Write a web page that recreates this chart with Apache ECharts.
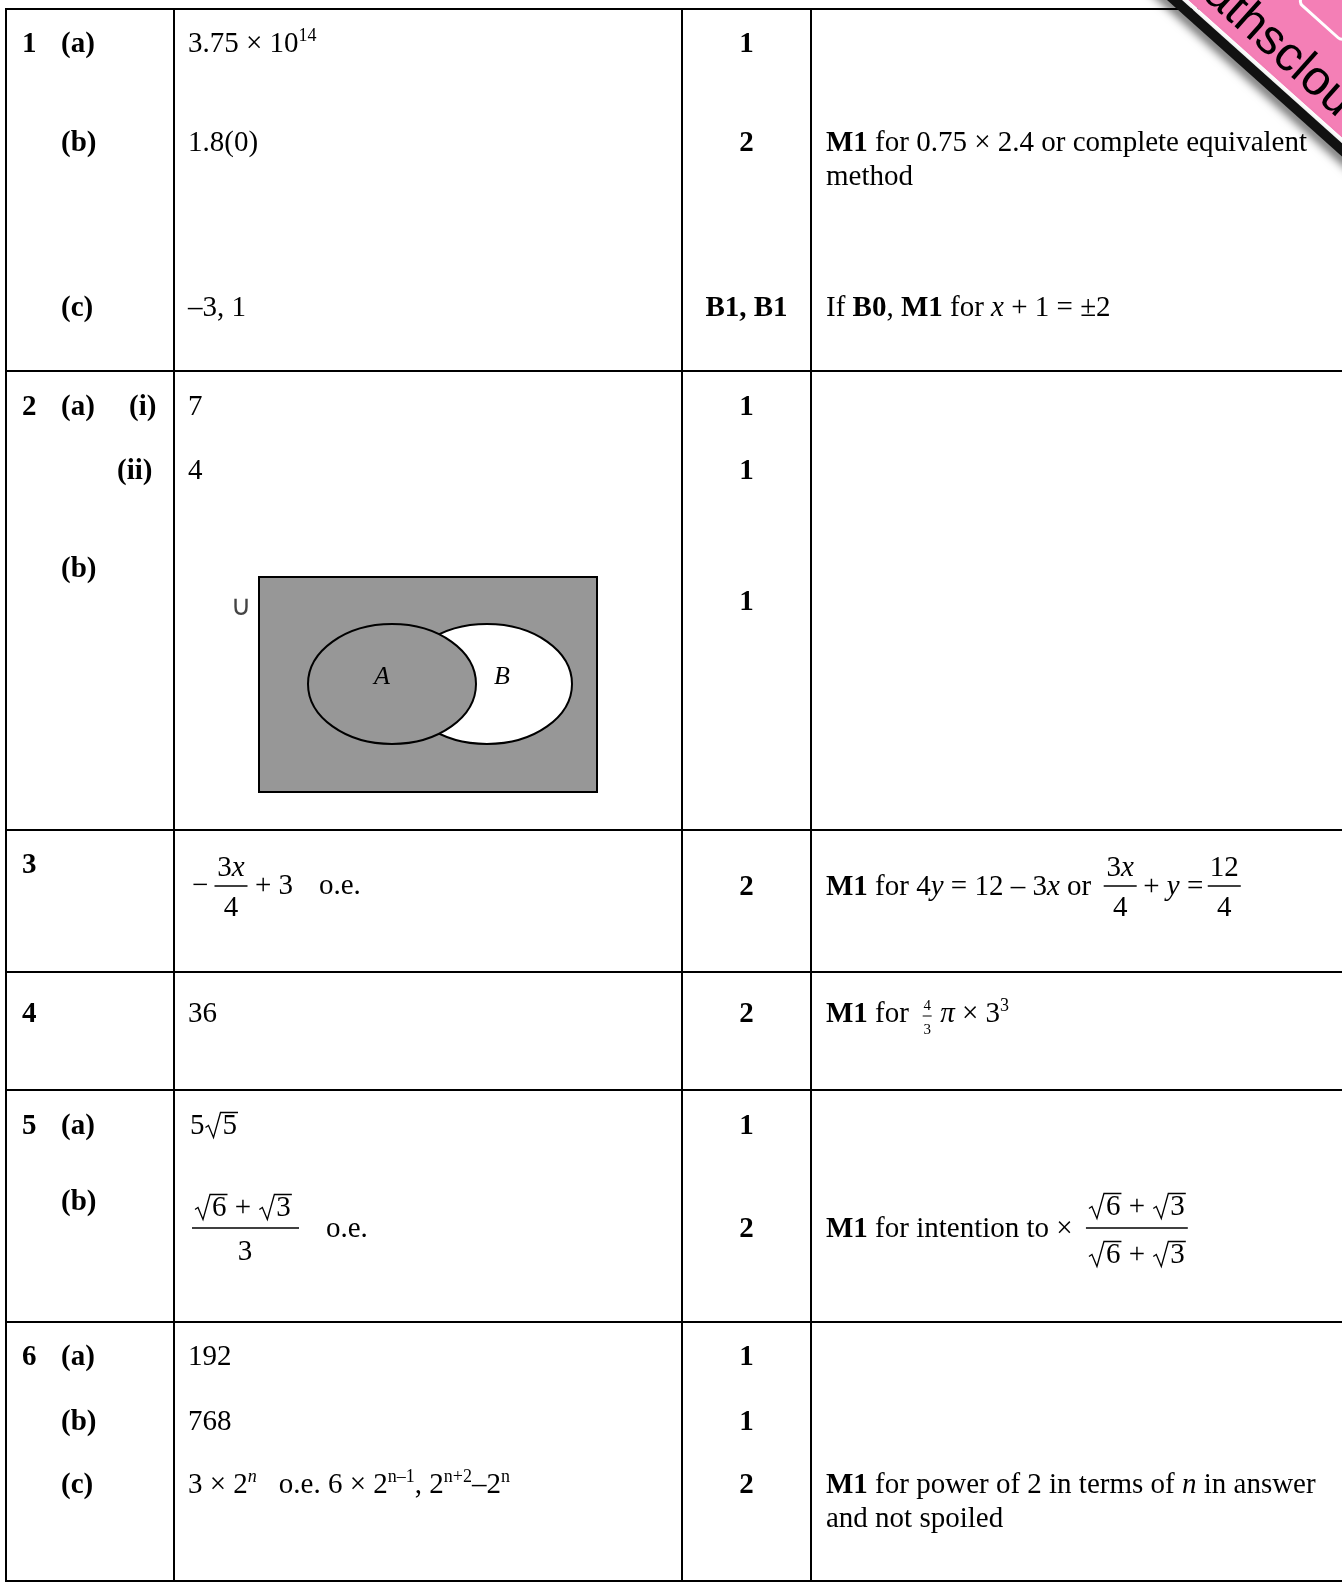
<!DOCTYPE html>
<html>
<head>
<meta charset="utf-8">
<title>Mark scheme</title>
<script src="https://cdn.jsdelivr.net/npm/echarts@6.0.0/dist/echarts.min.js"></script>
<style>
  html, body { margin: 0; padding: 0; background: #fff; }
  #chart { width: 1342px; height: 1584px; }
</style>
</head>
<body>
<div id="chart"></div>
<script>
// ---- data ----
const qNumbers = ['1', '2', '3', '4', '5', '6'];
const qNumberY = [42, 405, 863, 1012, 1124, 1355];
const partLabels = ['(a)', '(b)', '(c)', '(a)', '(b)', '(a)', '(b)', '(a)', '(b)', '(c)'];
const partY = [42, 141, 306, 405, 567, 1124, 1200, 1355, 1420, 1483];
const subLabels = ['(i)', '(ii)'];
const subX = [129, 117];
const subY = [405, 469];
const answerTexts = ['1.8(0)', '–3, 1', '7', '4', '36', '192', '768'];
const answerY = [141, 306, 405, 469, 1012, 1355, 1420];
const marks = ['1', '2', 'B1, B1', '1', '1', '1', '2', '2', '1', '2', '1', '1', '2'];
const markY = [42, 141, 306, 405, 469, 600, 885, 1012, 1124, 1227, 1355, 1420, 1483];

// ---- layout ----
const rowLines = [9, 371, 830, 972, 1090, 1322, 1581];
const colLines = [6, 174, 682, 811];
const ansX = 188;
const markX = 746.5;
const noteX = 826;
const FONT = '"Liberation Serif", "Times New Roman", serif';
const BASE = 29;
const SHIFT = 2.5; // text sits a touch lower than its nominal centre

const ctx = document.createElement('canvas').getContext('2d');
function fontStr (s) {
  return (s.i ? 'italic ' : '') + (s.b ? 'bold ' : '') + (s.size || BASE) + 'px ' + FONT;
}
function textW (s) {
  ctx.font = fontStr(s);
  return ctx.measureText(s.t).width;
}
function txt (x, y, s, align) {
  if (typeof s === 'string') s = { t: s };
  return {
    type: 'text', x: x, y: y + SHIFT, z: 10,
    style: {
      text: s.t, font: fontStr(s), fill: '#000',
      textAlign: align || 'left', textVerticalAlign: 'middle',
      align: align || 'left', verticalAlign: 'middle'
    }
  };
}
function line (x1, y1, x2, y2, w) {
  return { type: 'line', z: 5, shape: { x1: x1, y1: y1, x2: x2, y2: y2 }, style: { stroke: '#000', lineWidth: w || 2 } };
}
// radical sign with digit under it
function sqrtEls (x, y, d, els) {
  let w = textW({ t: d });
  let yy = y + SHIFT;
  els.push({
    type: 'polyline', z: 10,
    shape: { points: [[x + 1, yy + 1], [x + 4, yy - 1], [x + 9, yy + 11], [x + 16, yy - 14], [x + 19 + w, yy - 14]] },
    style: { stroke: '#000', lineWidth: 1.3, fill: null }
  });
  els.push(txt(x + 18, y, d));
  return 19 + w;
}
// text pieces laid out one after another
function run (x, y, segs, els) {
  segs.forEach(seg => {
    if (typeof seg === 'string') seg = { t: seg };
    if (seg.gap) { x += seg.gap; return; }
    if (seg.sqrt) { x += sqrtEls(x, y, seg.sqrt, els); return; }
    els.push(txt(x, y + (seg.dy || 0), seg));
    x += textW(seg);
  });
  return x;
}
function runWidth (segs) {
  let tmp = [];
  return run(0, 0, segs, tmp);
}
// stacked fraction, centred on cx, bar at y
function frac (cx, y, num, den, barW, els, gapN, gapD, lw) {
  let wn = runWidth(num), wd = runWidth(den);
  run(cx - wn / 2, y - (gapN || 20), num, els);
  run(cx - wd / 2, y + (gapD || 20), den, els);
  els.push(line(cx - barW / 2, y, cx + barW / 2, y, lw || 1.3));
}

const els = [];

// table grid
rowLines.forEach(y => els.push(line(colLines[0] - 1, y, 1342, y)));
colLines.forEach(x => els.push(line(x, rowLines[0], x, rowLines[rowLines.length - 1])));

// question numbers and parts
qNumbers.forEach((q, i) => els.push(txt(22, qNumberY[i], { t: q, b: 1 })));
partLabels.forEach((p, i) => els.push(txt(61, partY[i], { t: p, b: 1 })));
subLabels.forEach((p, i) => els.push(txt(subX[i], subY[i], { t: p, b: 1 })));

// marks
marks.forEach((m, i) => els.push(txt(markX, markY[i], { t: m, b: 1 }, 'center')));

// plain answers
answerTexts.forEach((a, i) => els.push(txt(ansX, answerY[i], a)));

// 1(a)
run(ansX, 42, ['3.75 × 10', { t: '14', size: 18, dy: -8 }], els);

// 1(b) / 1(c) notes
run(noteX, 141, [{ t: 'M1', b: 1 }, ' for 0.75 × 2.4 or complete equivalent'], els);
els.push(txt(noteX, 175, 'method'));
run(noteX, 306, ['If ', { t: 'B0', b: 1 }, ', ', { t: 'M1', b: 1 }, ' for ', { t: 'x', i: 1 }, ' + 1 = ±2'], els);

// 2(b) Venn diagram: complement of B shaded
els.push({ type: 'rect', z: 6, shape: { x: 259, y: 577, width: 338, height: 215 }, style: { fill: '#979797', stroke: '#000', lineWidth: 2 } });
els.push({ type: 'ellipse', z: 7, shape: { cx: 487, cy: 684, rx: 85, ry: 60 }, style: { fill: '#fff', stroke: '#000', lineWidth: 2 } });
els.push({ type: 'ellipse', z: 8, shape: { cx: 392, cy: 684, rx: 84, ry: 60 }, style: { fill: '#979797', stroke: '#000', lineWidth: 2 } });
els.push(txt(382, 675, { t: 'A', i: 1, size: 26 }, 'center'));
els.push(txt(502, 675, { t: 'B', i: 1, size: 26 }, 'center'));
els.push({
  type: 'text', x: 241, y: 608, z: 10,
  style: { text: '∪', font: '28px "DejaVu Sans"', fill: '#444', textAlign: 'center', textVerticalAlign: 'middle', align: 'center', verticalAlign: 'middle' }
});

// 3
els.push(txt(192, 884, '−'));
frac(231, 886, ['3', { t: 'x', i: 1 }], ['4'], 33, els);
els.push(txt(255, 884, '+ 3'));
els.push(txt(319, 884, 'o.e.'));
let x3 = run(noteX, 885, [{ t: 'M1', b: 1 }, ' for 4', { t: 'y', i: 1 }, ' = 12 – 3', { t: 'x', i: 1 }, ' or'], els);
frac(x3 + 29, 886, ['3', { t: 'x', i: 1 }], ['4'], 33, els);
x3 = run(x3 + 52, 885, ['+ ', { t: 'y', i: 1 }, ' ='], els);
frac(x3 + 21, 886, ['12'], ['4'], 33, els);

// 4
let x4 = run(noteX, 1012, [{ t: 'M1', b: 1 }, ' for '], els);
frac(x4 + 11, 1016, [{ t: '4', size: 15 }], [{ t: '3', size: 15 }], 9, els, 12, 12, 1);
run(x4 + 24, 1012, [{ t: 'π', i: 1 }, ' × 3', { t: '3', size: 18, dy: -8 }], els);

// 5
run(190, 1124, ['5', { sqrt: '5' }], els);
let rootSum = [{ sqrt: '6' }, ' + ', { sqrt: '3' }];
let wRoot = runWidth(rootSum);
run(194, 1206, rootSum, els);
els.push(line(192, 1228, 299, 1228, 1.3));
els.push(txt(245, 1250, '3', 'center'));
els.push(txt(326, 1227, 'o.e.'));
let x5 = run(noteX, 1227, [{ t: 'M1', b: 1 }, ' for intention to × '], els);
run(x5 + 8, 1205, rootSum, els);
els.push(line(x5 + 6, 1228, x5 + wRoot + 10, 1228, 1.3));
run(x5 + 8, 1253, rootSum, els);

// 6(c)
let x6 = run(ansX, 1483, ['3 × 2', { t: 'n', i: 1, size: 18, dy: -8 }], els);
run(x6 + 22, 1483, ['o.e. 6 × 2', { t: 'n–1', size: 18, dy: -8 }, ', 2', { t: 'n+2', size: 18, dy: -8 }, '–2', { t: 'n', size: 18, dy: -8 }], els);
run(noteX, 1483, [{ t: 'M1', b: 1 }, ' for power of 2 in terms of ', { t: 'n', i: 1 }, ' in answer'], els);
els.push(txt(noteX, 1517, 'and not spoiled'));

// corner watermark band
els.push({
  type: 'group', x: 1176, y: 0, rotation: -0.73, z: 50,
  children: [
    { type: 'rect', z: 50, shape: { x: -200, y: -300, width: 700, height: 292 }, style: { fill: '#f47fb6' } },
    { type: 'rect', z: 51, shape: { x: -200, y: -8, width: 700, height: 4 }, style: { fill: '#fff' } },
    {
      type: 'rect', z: 51, shape: { x: -200, y: -4, width: 700, height: 10 },
      style: { fill: '#111', shadowBlur: 10, shadowColor: 'rgba(0,0,0,0.6)', shadowOffsetX: -4, shadowOffsetY: 4 }
    },
    {
      type: 'rect', z: 52, shape: { x: 92, y: -114, width: 60, height: 34, r: 6 },
      style: { fill: null, stroke: '#fff', lineWidth: 3 }
    },
    {
      type: 'text', x: -24, y: -33, z: 52,
      style: { text: 'mathscloud', font: '49px "Liberation Sans", Arial, sans-serif', fill: '#000', textAlign: 'left', textVerticalAlign: 'middle', align: 'left', verticalAlign: 'middle' }
    }
  ]
});

const myChart = echarts.init(document.getElementById('chart'), null, { renderer: 'canvas' });
myChart.setOption({
  backgroundColor: '#fff',
  animation: false,
  graphic: { elements: els }
});
</script>
</body>
</html>
